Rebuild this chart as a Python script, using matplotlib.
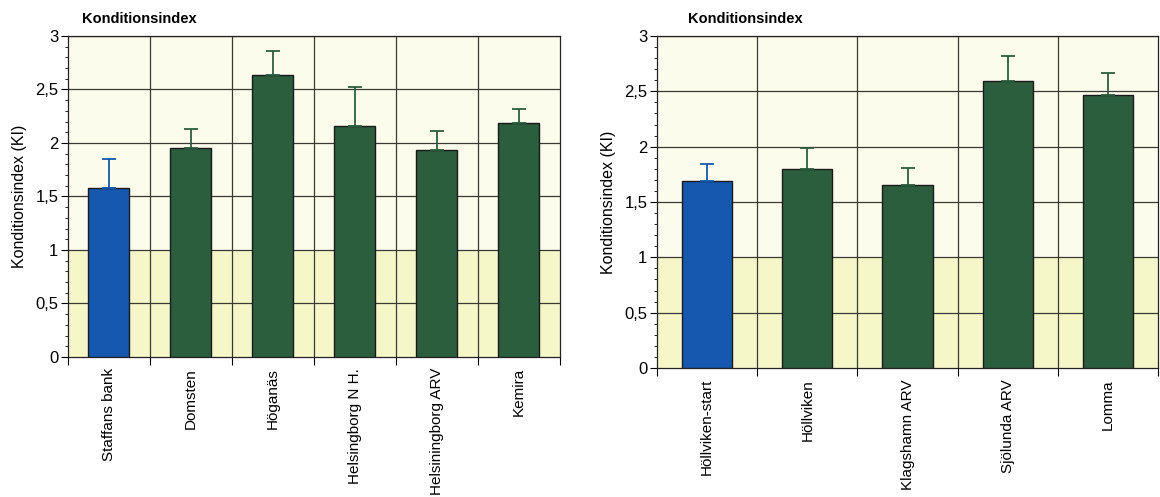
import matplotlib
matplotlib.use("Agg")
import matplotlib.pyplot as plt
from matplotlib.ticker import MultipleLocator, FuncFormatter, FixedLocator
import numpy as np

plt.rcParams['font.family'] = ['Liberation Sans', 'DejaVu Sans']

title = "Konditionsindex"
ylabel = "Konditionsindex (KI)"

left_sites = ["Staffans bank", "Domsten", "Höganäs", "Helsingborg N H.",
              "Helsiningborg ARV", "Kemira"]
left_ki = [1.58, 1.95, 2.64, 2.16, 1.93, 2.19]
left_err = [0.27, 0.18, 0.22, 0.36, 0.18, 0.13]

right_sites = ["Höllviken-start", "Höllviken", "Klagshamn ARV", "Sjölunda ARV", "Lomma"]
right_ki = [1.69, 1.80, 1.65, 2.59, 2.47]
right_err = [0.15, 0.19, 0.16, 0.23, 0.20]

BLUE = "#1657b0"
GREEN = "#2b5e3d"
BG_TOP = "#fbfcec"
BG_LOW = "#f5f7c9"
GRID = "#3a3a32"

fig = plt.figure(figsize=(11.6, 4.97), dpi=100)
fig.patch.set_facecolor("white")


def draw_panel(rect, sites, vals, errs, title_x):
    ax = fig.add_axes(rect)
    n = len(sites)
    x = np.arange(n)
    ax.set_xlim(-0.5, n - 0.5)
    ax.set_ylim(0, 3)
    ax.set_facecolor(BG_TOP)
    ax.axhspan(0, 1, color=BG_LOW, zorder=0, lw=0)

    colors = [BLUE] + [GREEN] * (n - 1)
    for xi, v, e, c in zip(x, vals, errs, colors):
        ax.bar(xi, v, width=0.5, color=c, edgecolor="#1a1a1a", linewidth=1.0, zorder=3)
        ax.errorbar(xi, v, yerr=[[0], [e]], fmt="none", ecolor=c, elinewidth=1.3,
                    capsize=5, capthick=1.3, zorder=4)

    # grid: horizontal every 0.5, vertical at category borders
    for yv in np.arange(0.5, 3.01, 0.5):
        ax.axhline(yv, color=GRID, lw=0.9, zorder=1)
    for b in np.arange(0.5, n - 0.5, 1.0):
        ax.axvline(b, color=GRID, lw=0.9, zorder=1)

    ax.yaxis.set_major_locator(MultipleLocator(0.5))
    ax.yaxis.set_minor_locator(MultipleLocator(0.1))
    ax.yaxis.set_major_formatter(FuncFormatter(lambda v, p: f"{v:g}".replace(".", ",")))
    ax.tick_params(axis="y", which="major", length=5, width=0.8, labelsize=12, pad=2)
    ax.tick_params(axis="y", which="minor", length=2.5, width=0.6)

    # x ticks at category borders, labels at centres
    ax.xaxis.set_major_locator(FixedLocator(list(np.arange(-0.5, n, 1.0))))
    ax.xaxis.set_major_formatter(FuncFormatter(lambda v, p: ""))
    ax.xaxis.set_minor_locator(FixedLocator(list(x)))
    ax.set_xticklabels(sites, minor=True, rotation=90, fontsize=11, va="top")
    ax.tick_params(axis="x", which="major", length=6, width=0.8)
    ax.tick_params(axis="x", which="minor", length=0, pad=8)

    for s in ax.spines.values():
        s.set_color("#222222")
        s.set_linewidth(0.9)
    ax.set_ylabel(ylabel, fontsize=11.5, labelpad=6)
    fig.text(title_x, 0.962, title, fontsize=10.5, fontweight="bold", ha="left", va="center")
    return ax


draw_panel([0.0586, 0.2817, 0.4241, 0.6459], left_sites, left_ki, left_err, 0.071)
draw_panel([0.5664, 0.2596, 0.4319, 0.668], right_sites, right_ki, right_err, 0.593)

fig.savefig("out.png", dpi=100, facecolor="white")
